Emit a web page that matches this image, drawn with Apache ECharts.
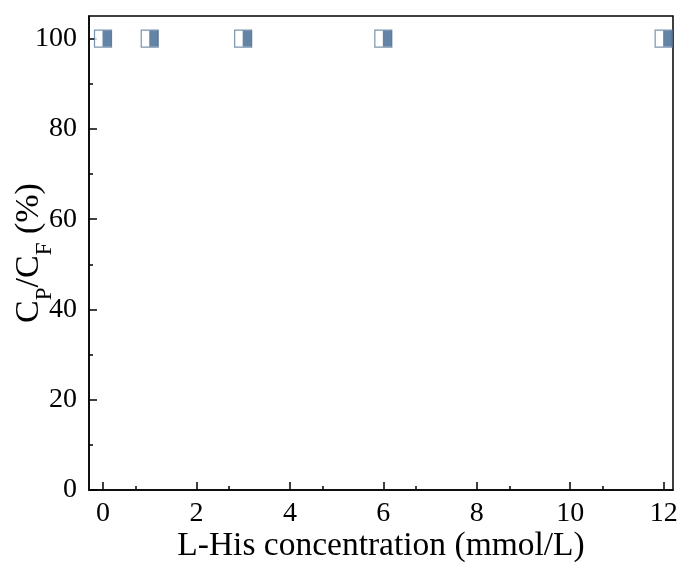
<!DOCTYPE html>
<html lang="en">
<head>
    <meta charset="UTF-8">
    <title>L-His</title>
    <script src="https://cdn.jsdelivr.net/npm/echarts@6/dist/echarts.min.js"></script>
    <style>
        html, body { margin: 0; padding: 0; background: #fff; }
        #main { width: 680px; height: 563px; }
    </style>
</head>
<body>
<div id="main"></div>
<script>
    // 数据
    var concentration = [0, 1, 3, 6, 12];
    var ratio = [100, 100, 100, 100, 100];
    var xTicks = [0, 2, 4, 6, 8, 10, 12];
    var yTicks = [0, 20, 40, 60, 80, 100];

    var points = concentration.map(function (c, i) { return [c, ratio[i]]; });
    var font = '"Liberation Serif", "Times New Roman", serif';

    var myChart = echarts.init(document.getElementById('main'));

    var option = {
        animation: false,
        grid: {
            left: 89, right: 7, top: 16, bottom: 73,
            outerBoundsMode: 'none',
            containLabel: false,
            show: true,
            borderColor: '#000',
            borderWidth: 1.5
        },
        xAxis: {
            type: 'value',
            min: -0.3,
            max: 12.2,
            interval: 2,
            name: 'L-His concentration (mmol/L)',
            nameLocation: 'middle',
            nameMoveOverlap: false,
            nameGap: 39,
            nameTextStyle: { fontFamily: font, fontSize: 33.5, color: '#000' },
            axisLine: { show: true, onZero: false, lineStyle: { color: '#000', width: 1.5 } },
            axisTick: { show: true, inside: true, length: 8, lineStyle: { color: '#000', width: 1.5 },
                customValues: xTicks },
            minorTick: { show: true, splitNumber: 2, length: 4, lineStyle: { color: '#000', width: 1.5 } },
            axisLabel: {
                fontFamily: font, fontSize: 28, color: '#000', margin: 10,
                customValues: xTicks
            },
            splitLine: { show: false }
        },
        yAxis: {
            type: 'value',
            min: 0,
            max: 105,
            interval: 20,
            name: '{a|C}{s|P}{a|/C}{s|F}{a| (%)}',
            nameLocation: 'middle',
            nameMoveOverlap: false,
            nameGap: 43,
            nameTextStyle: {
                fontFamily: font, color: '#000',
                rich: {
                    a: { fontFamily: font, fontSize: 34, color: '#000' },
                    s: { fontFamily: font, fontSize: 23, color: '#000', verticalAlign: 'bottom', padding: [0, 0, -10, 0] }
                }
            },
            axisLine: { show: true, onZero: false, lineStyle: { color: '#000', width: 1.5 } },
            axisTick: { show: true, inside: true, length: 8, lineStyle: { color: '#000', width: 1.5 },
                customValues: yTicks },
            minorTick: { show: true, splitNumber: 2, length: 4, lineStyle: { color: '#000', width: 1.5 } },
            axisLabel: {
                fontFamily: font, fontSize: 28, color: '#000', margin: 12,
                customValues: yTicks
            },
            splitLine: { show: false }
        },
        series: [
            {
                name: 'box',
                type: 'scatter',
                data: points,
                symbol: 'rect',
                symbolSize: 17,
                itemStyle: { color: '#fff', borderColor: '#5a7898', borderWidth: 1.2 }
            },
            {
                name: 'half',
                type: 'scatter',
                data: points,
                symbol: 'rect',
                symbolSize: [9, 16],
                symbolOffset: [4, 0],
                itemStyle: { color: '#3d6590' }
            }
        ]
    };

    myChart.setOption(option);
</script>
</body>
</html>
